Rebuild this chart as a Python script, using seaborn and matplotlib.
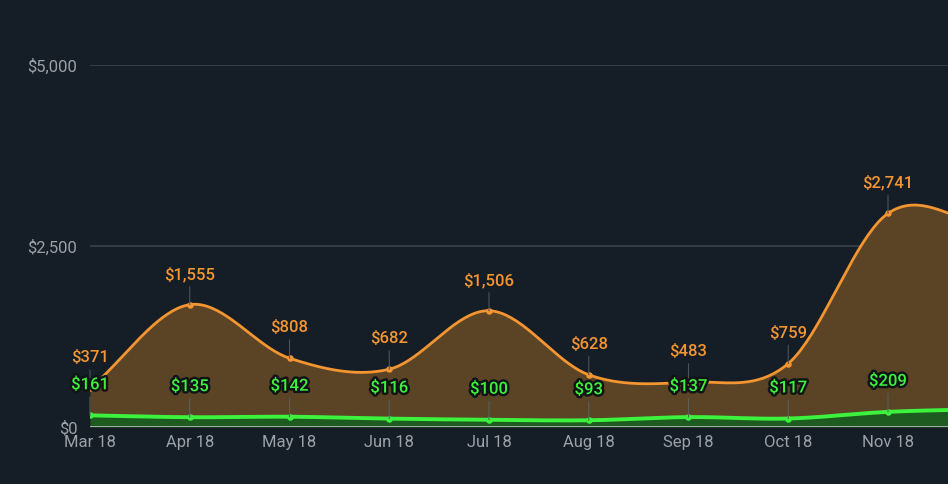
import numpy as np
import pandas as pd
import matplotlib
matplotlib.use("Agg")
import matplotlib.pyplot as plt
import matplotlib.patheffects as pe
import seaborn as sns

# Data (Dec 18 sits past the right edge, estimated from the curve)
months = ["Mar 18", "Apr 18", "May 18", "Jun 18", "Jul 18", "Aug 18",
          "Sep 18", "Oct 18", "Nov 18", "Dec 18"]
top_values = [371, 1555, 808, 682, 1506, 628, 483, 759, 2741, 2532]
base_values = [161, 135, 142, 116, 100, 93, 137, 117, 209, 248]
y_ticks = [0, 2500, 5000]

BG = "#151d26"
ORANGE = "#f39530"
ORANGE_FILL = "#5b4325"
GREEN = "#3cf23c"
GREEN_FILL = "#1d5b21"
GRID = "#3a434d"
TICK = "#9ba1a7"


def smooth(values, n=40):
    # cubic hermite curve through every point (catmull-rom tangents)
    y = np.asarray(values, dtype=float)
    m = np.gradient(y)
    xs, ys = [], []
    for i in range(len(y) - 1):
        t = np.linspace(0, 1, n, endpoint=False)
        h00 = 2 * t**3 - 3 * t**2 + 1
        h10 = t**3 - 2 * t**2 + t
        h01 = -2 * t**3 + 3 * t**2
        h11 = t**3 - t**2
        xs.append(i + t)
        ys.append(h00 * y[i] + h10 * m[i] + h01 * y[i + 1] + h11 * m[i + 1])
    xs.append([len(y) - 1])
    ys.append([y[-1]])
    return np.concatenate(xs), np.concatenate(ys)


df = pd.DataFrame({"month": months, "base": base_values, "top": top_values})
df["x"] = np.arange(len(df))
df["total"] = df["base"] + df["top"]

sns.set_theme(style="dark", rc={"axes.facecolor": BG, "figure.facecolor": BG})
plt.rcParams["font.family"] = ["Roboto", "DejaVu Sans"]

fig = plt.figure(figsize=(9.48, 4.84), dpi=100)
ax = fig.add_axes([90 / 948, 1 - 427 / 484, 1 - 90 / 948, (427 - 65) / 484])

bx, by = smooth(df["base"])
tx, ty = smooth(df["total"])

ax.fill_between(tx, by, ty, color=ORANGE_FILL, lw=0, zorder=1)
ax.fill_between(bx, 0, by, color=GREEN_FILL, lw=0, zorder=1)

for y in y_ticks[1:]:
    ax.axhline(y, color=GRID, lw=1.2, zorder=0.5)
ax.axhline(0, color="#b9bec3", lw=1.2, zorder=4)

sns.lineplot(x=tx, y=ty, ax=ax, color=ORANGE, lw=2.0, sort=False, estimator=None, zorder=3)
sns.lineplot(x=bx, y=by, ax=ax, color=GREEN, lw=2.8, sort=False, estimator=None, zorder=3)
sns.scatterplot(data=df, x="x", y="total", ax=ax, color=ORANGE, s=22, linewidth=0, zorder=5)
sns.scatterplot(data=df, x="x", y="base", ax=ax, color=GREEN, s=22, linewidth=0, zorder=5)

# value labels above each point, with a thin leader line
for _, row in df.iterrows():
    ax.annotate(f"${row['top']:,}", xy=(row["x"], row["total"]), xytext=(0, 22),
                textcoords="offset points", ha="center", va="center",
                color=ORANGE, fontsize=12, fontweight="medium", zorder=6,
                arrowprops=dict(arrowstyle="-", color="#4a525b", lw=0.8,
                                shrinkA=1, shrinkB=0))
    ax.annotate(f"${row['base']:,}", xy=(row["x"], row["base"]), xytext=(0, 22),
                textcoords="offset points", ha="center", va="center",
                color=GREEN, fontsize=12, fontweight="medium", zorder=6,
                path_effects=[pe.withStroke(linewidth=3.5, foreground="#111416")],
                arrowprops=dict(arrowstyle="-", color="#55605a", lw=0.8,
                                shrinkA=1, shrinkB=0))

ax.set_xlim(0, (948 - 90) / 99.75)
ax.set_ylim(0, 5000)
ax.set_xticks(df["x"][:-1])
ax.set_xticklabels(df["month"][:-1])
ax.set_yticks(y_ticks)
ax.set_yticklabels([f"${v:,}" for v in y_ticks])
ax.tick_params(axis="x", colors=TICK, labelsize=12, length=0, pad=6)
ax.tick_params(axis="y", colors=TICK, labelsize=12, length=0, pad=9)
ax.set_xlabel("")
ax.set_ylabel("")
ax.grid(False)
for s in ax.spines.values():
    s.set_visible(False)

fig.savefig("out.png", dpi=100, facecolor=BG)
